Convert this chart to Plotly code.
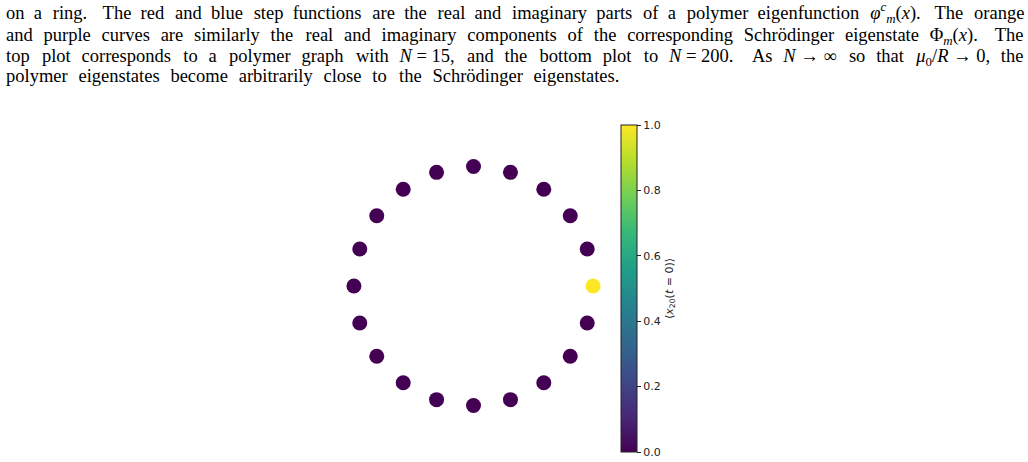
import numpy as np
import plotly.graph_objects as go
import re

# ---- data ----
n_sites = 20
site_index = list(range(20))
site_value = [1.0] + [0.0] * 19          # <x_20(t=0)> at each ring site
cbar_ticks = [0.0, 0.2, 0.4, 0.6, 0.8, 1.0]
cbar_ticktext = ["0.0", "0.2", "0.4", "0.6", "0.8", "1.0"]

caption_lines = [
    ["on", "a", "ring.", "The", "red", "and", "blue", "step", "functions", "are", "the", "real", "and",
     "imaginary", "parts", "of", "a", "polymer", "eigenfunction",
     "<i>φ</i><sup><i>c</i></sup><sub><i>m</i></sub>(<i>x</i>).", "The", "orange"],
    ["and", "purple", "curves", "are", "similarly", "the", "real", "and", "imaginary", "components", "of",
     "the", "corresponding", "Schrödinger", "eigenstate", "Φ<sub><i>m</i></sub>(<i>x</i>).", "The"],
    ["top", "plot", "corresponds", "to", "a", "polymer", "graph", "with", "<i>N</i> = 15,", "and", "the",
     "bottom", "plot", "to", "<i>N</i> = 200.", "As", "<i>N</i> → ∞", "so", "that",
     "<i>μ</i><sub>0</sub>/<i>R</i> → 0,", "the"],
    ["polymer", "eigenstates", "become", "arbitrarily", "close", "to", "the", "Schrödinger", "eigenstates."],
]
line_right = [1022, 1022, 1022, 617]
line_baseline = [17, 38.5, 60, 81.6]

# ---- approximate Liberation Serif advance widths (em) ----
REG = dict(zip("abcdefghijklmnopqrstuvwxyz",
               [.444, .5, .444, .5, .444, .333, .5, .5, .278, .278, .5, .278, .778, .5, .5, .5, .5,
                .333, .389, .278, .5, .5, .722, .5, .5, .444]))
REG.update({"T": .611, "A": .722, "S": .556, "N": .722, "R": .667, ".": .25, ",": .25, "(": .333,
            ")": .333, "/": .278, "=": .564, " ": .25, "ö": .5, "Φ": .76, "→": 1.0, "∞": .71})
for d in "0123456789":
    REG[d] = .5
ITAL = {"N": .667, "R": .611, "x": .444, "m": .722, "c": .444, "t": .278, "φ": .55, "μ": .5}


def word_width(html):
    w = 0.0
    scale = 1.0
    italic = False
    for tok in re.findall(r"</?\w+>|.", html):
        if tok in ("<sub>", "<sup>"):
            scale = 0.7
        elif tok in ("</sub>", "</sup>"):
            scale = 1.0
        elif tok == "<i>":
            italic = True
        elif tok == "</i>":
            italic = False
        else:
            if italic and tok in ITAL:
                w += ITAL[tok] * scale
            else:
                w += REG.get(tok, .5) * scale
    return w

FS = 18.5
SPACES = {"\u2003": 1.0, "\u2002": 0.5, "\u2004": 1 / 3, "\u2005": 0.25, "\u2006": 1 / 6}
combos = []
keys = list(SPACES.items())
for a in keys:
    combos.append((a[0], a[1]))
    for b in keys:
        combos.append((a[0] + b[0], a[1] + b[1]))
        for c in keys:
            combos.append((a[0] + b[0] + c[0], a[1] + b[1] + c[1]))


def justify(words, left, right):
    widths = [word_width(w) * FS for w in words]
    ngaps = len(words) - 1
    weights = [1.5 if words[i].endswith(".") else 1.0 for i in range(ngaps)]
    total_gap = (right - left) - sum(widths)
    unit = total_gap / sum(weights)
    out = words[0]
    pos = widths[0]
    ideal = widths[0]
    for i in range(ngaps):
        ideal += unit * weights[i]
        best = min(combos, key=lambda c: abs(pos + c[1] * FS - ideal))
        out += best[0] + words[i + 1]
        pos += best[1] * FS + widths[i + 1]
        ideal += widths[i + 1]
    return out

theta = 2 * np.pi * np.array(site_index) / n_sites
xs = np.cos(theta)
ys = np.sin(theta)

W, H = 1028, 462
L, R, T, B = 330, 411, 120, 10
PW, PH = W - L - R, H - T - B


def px(x):
    return (x - L) / PW


def py(y):
    return (H - B - y) / PH

fig = go.Figure()
fig.add_trace(go.Scatter(
    x=xs, y=ys, mode="markers",
    marker=dict(
        size=15, color=site_value, colorscale="Viridis", cmin=0, cmax=1,
        line=dict(width=0),
        colorbar=dict(
            x=px(621), xanchor="left", y=py(288.5), yanchor="middle", xpad=0, ypad=0,
            lenmode="pixels", len=327, thicknessmode="pixels", thickness=16,
            outlinewidth=1, outlinecolor="#222",
            tickmode="array", tickvals=cbar_ticks, ticktext=cbar_ticktext,
            ticks="outside", ticklen=4, tickwidth=1, tickcolor="#222",
            tickfont=dict(family="DejaVu Sans", size=11, color="#222"),
            title=dict(text="⟨<i>x</i><sub>20</sub>(<i>t</i> = 0)⟩", side="right",
                       font=dict(family="DejaVu Sans", size=11, color="#222")),
        ),
    ),
    showlegend=False, hoverinfo="skip",
))

for k, (words, right, base) in enumerate(zip(caption_lines, line_right, line_baseline)):
    has_sub = any("<sub>" in w for w in words)
    off = 11.5 if has_sub else 6.5
    fig.add_annotation(
        text=justify(words, 4, right), x=px(4), y=py(base + off), xref="paper", yref="paper",
        xanchor="left", yanchor="bottom", showarrow=False,
        font=dict(family="Liberation Serif", size=FS, color="black"),
    )

fig.update_layout(
    width=W, height=H,
    margin=dict(l=L, r=R, t=T, b=B, pad=0),
    paper_bgcolor="white", plot_bgcolor="white",
    xaxis=dict(range=[-1.2, 1.2], visible=False, fixedrange=True),
    yaxis=dict(range=[-1.389, 1.389], visible=False, fixedrange=True),
)
fig.write_html("out.html")
